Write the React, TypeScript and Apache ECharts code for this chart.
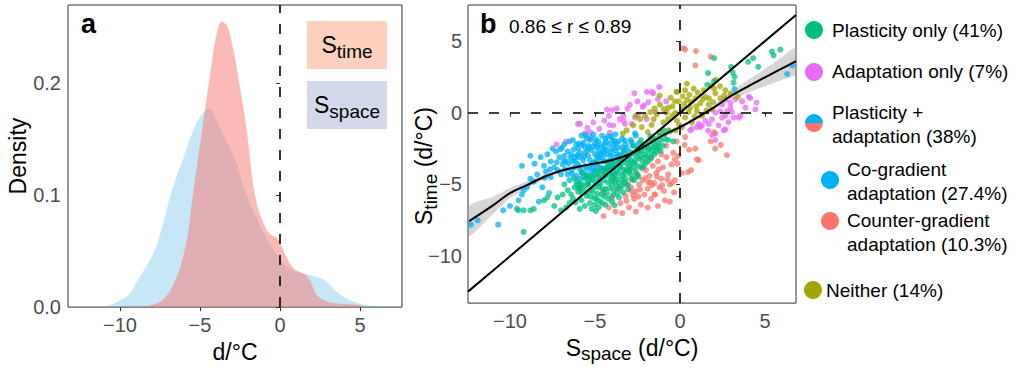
import React, { useEffect, useRef } from "react";
import * as echarts from "echarts";

// ---------- Panel a: density curves ----------
const timeDensX = [-10.6, -9.0, -8.3, -7.6, -7.1, -6.6, -6.15, -5.75, -5.45, -5.15, -4.85, -4.55, -4.27, -3.96, -3.64, -3.3, -2.92, -2.54, -2.08, -1.56, -0.94, -0.5, -0.2, 0, 0.4, 0.83, 1.3, 1.67, 2.0, 2.29, 2.92, 3.8, 4.8, 5.5];
const timeDensY = [0, 0.0005, 0.001, 0.004, 0.01, 0.022, 0.04, 0.066, 0.1, 0.13, 0.16, 0.19, 0.217, 0.244, 0.255, 0.251, 0.23, 0.2, 0.158, 0.1, 0.072, 0.064, 0.062, 0.057, 0.045, 0.035, 0.031, 0.028, 0.02, 0.011, 0.005, 0.003, 0.002, 0];
const spaceDensX = [-11.2, -10.8, -10.0, -9.4, -9.06, -8.5, -8.0, -7.7, -7.3, -6.9, -6.5, -6.0, -5.5, -5.0, -4.42, -4.0, -3.5, -2.9, -2.5, -2.08, -1.25, -0.7, -0.2, 0.3, 0.8, 1.25, 1.8, 2.3, 2.7, 3.1, 3.54, 4.0, 4.58, 5.3, 6.25, 6.8];
const spaceDensY = [0, 0.001, 0.006, 0.012, 0.02, 0.033, 0.046, 0.056, 0.075, 0.097, 0.115, 0.135, 0.155, 0.17, 0.177, 0.168, 0.153, 0.135, 0.118, 0.1, 0.073, 0.058, 0.047, 0.038, 0.033, 0.031, 0.029, 0.027, 0.025, 0.02, 0.0137, 0.009, 0.005, 0.002, 0.0006, 0];
const densXTicks = [-10, -5, 0, 5];
const densYTicks = [0, 0.1, 0.2];

// ---------- Panel b: scatter ----------
const plasticityOnly = [
  [-9.2, -8.3], [-9.6, -6.7], [-9.2, -6.8], [-8.8, -6.8], [-8.6, -6.7], [-7.8, -5.9], [-8.0, -6.1], [-7.4, -6.5], [-7.2, -5.9], [-6.9, -5.7], [-6.6, -5.4], [-6.8, -5.0], [-6.4, -5.7], [-6.2, -5.2],
  [2.0, 3.8], [1.65, 2.76], [3.0, 3.2], [4.0, 3.54], [4.3, 3.8], [4.6, 3.2], [5.5, 4.0], [5.9, 4.4], [5.4, 4.26], [3.2, 2.5], [3.15, 2.1], [2.0, 2.2], [1.6, 1.95], [3.1, 2.8],
  [-6.0, -5.5], [-5.9, -4.9], [-5.8, -6.1], [-5.7, -5.3], [-5.6, -4.6], [-5.5, -5.8], [-5.4, -5.0], [-5.3, -6.3], [-5.2, -4.4], [-5.1, -5.5], [-5.0, -4.8], [-4.9, -6.0], [-4.8, -5.2], [-4.7, -4.3], [-4.6, -5.7], [-4.5, -4.7], [-4.4, -5.3], [-4.3, -3.9], [-4.2, -6.0], [-4.1, -4.5], [-4.0, -5.0], [-3.9, -3.6], [-3.8, -4.8], [-3.7, -5.6], [-3.6, -4.2], [-3.5, -3.3], [-3.4, -5.1], [-3.3, -4.0], [-3.2, -4.6], [-3.1, -3.0], [-3.0, -3.7], [-2.9, -4.3], [-2.8, -2.8], [-2.7, -3.5], [-2.6, -4.1], [-2.5, -2.5], [-2.4, -3.2], [-2.3, -3.8], [-2.2, -2.2], [-2.1, -2.9], [-2.0, -3.5], [-1.9, -2.6], [-1.8, -2.0], [-1.7, -3.1], [-1.6, -2.4], [-1.5, -1.8], [-1.4, -2.7], [-1.3, -2.1], [-1.2, -1.6], [-1.0, -2.3], [-0.9, -1.5], [-0.7, -1.9],
  [-6.3, -6.0], [-6.1, -4.8], [-5.8, -5.6], [-5.5, -4.4], [-5.3, -5.4], [-5.0, -6.4], [-4.9, -4.1], [-4.7, -5.0], [-4.6, -6.3], [-4.4, -4.4], [-4.3, -5.6], [-4.1, -3.8], [-4.0, -4.7], [-3.9, -5.4], [-3.7, -4.0], [-3.6, -4.9], [-3.5, -3.8], [-3.4, -4.4], [-3.2, -3.5], [-3.1, -5.0], [-3.0, -4.1], [-2.9, -3.3], [-2.7, -4.7], [-2.6, -3.0], [-2.5, -3.7], [-2.4, -2.7], [-2.2, -3.4], [-2.1, -2.4], [-1.9, -3.0], [-1.8, -2.5], [-1.6, -1.9], [-1.5, -2.9], [-1.3, -2.5], [-1.1, -1.9],
  [-5.6, -6.5], [-5.2, -6.7], [-4.8, -6.6], [-4.4, -6.4], [-4.0, -6.2], [-3.6, -5.9], [-5.9, -6.7], [-6.5, -6.3], [-6.7, -6.6], [-7.0, -6.8], [-4.9, -3.5], [-4.5, -3.9], [-3.3, -2.8], [-2.8, -2.3], [-2.3, -1.9], [-0.6, -1.3], [-0.4, -2.0], [-1.0, -1.2],
  [-5.75, -4.15], [-5.05, -5.15], [-4.25, -4.85], [-3.85, -4.35], [-3.45, -4.65], [-3.15, -3.95], [-2.75, -3.85], [-2.35, -3.05], [-1.95, -2.25], [-4.65, -4.05], [-5.35, -4.75], [-3.95, -5.75], [-3.05, -5.35], [-2.55, -2.75], [-1.75, -1.65], [-6.25, -4.55], [-5.55, -5.05], [-4.55, -5.35],
  [-5.45, -5.55], [-4.85, -5.65], [-4.15, -5.25], [-3.75, -5.15], [-3.25, -4.25], [-2.85, -3.55], [-2.45, -4.45], [-2.05, -3.15], [-1.65, -2.75], [-1.25, -2.25], [-5.95, -5.25], [-4.35, -4.15], [-3.55, -3.55], [-2.65, -3.35], [-4.75, -6.15], [-3.35, -5.55],
  [-6.15, -6.25], [-5.85, -5.25], [-5.25, -5.85], [-5.15, -4.65], [-4.85, -4.45], [-4.45, -5.85], [-4.05, -4.25], [-3.75, -4.55], [-3.55, -5.25], [-3.25, -4.85], [-2.95, -3.95], [-2.85, -4.65], [-2.55, -4.35], [-2.15, -3.75], [-1.85, -3.35], [-1.45, -2.45], [-1.15, -2.65], [-0.85, -1.85], [-3.65, -3.25], [-4.25, -3.55], [-5.05, -5.95], [-6.05, -5.05], [-2.25, -2.65], [-1.55, -2.15], [-3.85, -6.45], [-4.95, -6.85],
];
const adaptationOnly = [
  [-2.69, 1.35], [-1.67, 1.46], [-1.22, 1.8], [-1.31, 0.94], [-1.86, 0.74], [-2.12, 0.52], [-2.2, 0.4], [-2.51, 0.79], [-3.1, 0.27], [-3.72, 0.29], [-4.0, 0.18], [-4.18, -0.22], [-5.1, -0.67], [-5.88, -0.76], [-5.6, -1.43], [-4.75, -1.12], [-4.16, -0.85], [-3.92, -0.89], [-3.33, -0.56], [-3.33, -0.22], [-3.24, -0.78], [-2.84, -0.78], [-2.65, -0.34], [-4.12, -1.39], [-5.3, -1.35], [-0.82, 0.79], [-1.96, -0.45], [-7.27, -2.2], [-1.96, 1.46], [-1.57, 1.35], [-4.3, 0.22], [-6.0, -0.78], [-6.7, -2.0],
  [4.04, 1.12], [4.14, 1.01], [3.25, 0.94], [2.96, 0.67], [2.66, 0.94], [2.47, 0.56], [2.96, 0.34], [2.76, 0.11], [2.37, 0.11], [2.08, 0.0], [2.66, -0.22], [2.47, -0.34], [3.45, -0.34], [3.16, -0.34], [4.43, 0.23], [1.88, -0.45], [1.49, -0.56], [1.29, -0.89], [1.0, -1.0], [0.7, -1.12], [2.57, -1.23], [2.08, -1.45], [1.69, -0.78], [3.65, 0.79], [2.66, -1.16], [2.08, -1.9], [1.88, -1.57], [1.2, -1.0], [0.6, -1.23], [1.1, -0.78], [2.27, -0.89], [3.55, -0.22], [4.5, 0.7],
  [-2.45, -0.15], [-3.55, -0.45], [-4.45, -0.55], [-2.95, 0.55], [-1.45, 0.05], [-5.45, -1.05], [3.85, 0.35], [2.85, -0.65], [1.65, -1.25], [3.05, 0.05],
];
const coGradient = [
  [-12.3, -7.8], [-11.9, -7.5], [-10.7, -7.8], [-10.4, -6.8], [-10.0, -6.5], [-9.5, -6.8], [-9.5, -6.1], [-9.3, -5.7], [-9.2, -5.4], [-9.0, -5.2], [-8.8, -4.6], [-9.3, -3.7], [-8.8, -3.0], [-8.6, -4.8], [-8.4, -4.3], [-8.3, -6.2], [-8.2, -3.1], [-8.0, -3.7], [-7.9, -4.1], [-8.1, -5.2], [-7.6, -3.4], [-7.6, -4.5], [-7.7, -5.6], [-7.8, -2.9], [-7.4, -3.8], [-7.3, -2.7], [-7.1, -3.1], [-7.0, -4.3], [-6.8, -2.2], [-6.7, -3.4], [-6.6, -2.7], [-6.5, -4.7], [-6.4, -4.0], [-6.2, -3.1], [-6.1, -2.2], [-6.3, -1.9],
  [-6.0, -3.6], [-5.9, -2.8], [-5.8, -4.2], [-5.7, -3.3], [-5.6, -2.4], [-5.5, -3.9], [-5.5, -1.8], [-5.4, -3.0], [-5.3, -4.5], [-5.2, -2.6], [-5.1, -3.5], [-5.0, -2.1], [-5.0, -4.0], [-4.9, -3.2], [-4.8, -2.7], [-4.7, -3.8], [-4.6, -1.6], [-4.6, -2.4], [-4.5, -3.4], [-4.4, -4.3], [-4.3, -2.9], [-4.2, -2.2], [-4.1, -3.7], [-4.0, -1.9], [-3.9, -3.1], [-3.8, -2.6], [-3.7, -3.5], [-3.6, -2.0], [-3.5, -2.9], [-3.4, -2.4], [-3.2, -2.2], [-3.0, -2.7], [-2.9, -1.9], [-2.7, -2.3], [-2.6, -1.6],
  [-6.2, -3.8], [-6.0, -2.5], [-5.9, -4.6], [-5.8, -1.6], [-5.7, -2.1], [-5.6, -3.7], [-5.4, -2.3], [-5.3, -3.3], [-5.2, -4.1], [-5.1, -1.5], [-5.0, -2.9], [-4.9, -3.7], [-4.8, -2.0], [-4.7, -4.6], [-4.5, -2.8], [-4.4, -1.8], [-4.3, -3.4], [-4.2, -4.0], [-4.0, -2.5], [-3.9, -4.2], [-3.8, -1.5], [-3.7, -2.9], [-3.5, -3.7], [-3.3, -2.6], [-3.1, -3.3],
  [-6.4, -2.9], [-6.3, -3.4], [-6.1, -4.4], [-5.9, -3.1], [-5.6, -2.8], [-5.5, -4.3], [-5.3, -1.9], [-5.2, -3.6], [-4.9, -2.4], [-4.8, -3.0], [-4.6, -3.9], [-4.5, -2.2], [-4.3, -2.6], [-4.1, -3.0], [-4.0, -3.4], [-3.9, -2.2], [-3.6, -3.0], [-3.4, -1.8],
  [-6.9, -3.6], [-7.2, -4.0], [-6.6, -4.3], [-6.8, -3.0], [-7.5, -2.5], [-6.5, -2.0], [-5.8, -5.0], [-5.4, -4.9], [-4.8, -4.9],
  [-6.15, -3.35], [-5.45, -2.65], [-4.75, -3.15], [-4.05, -2.75], [-5.85, -3.95], [-5.15, -2.35], [-4.35, -3.85], [-3.65, -2.45], [-5.65, -4.45], [-4.95, -1.85], [-6.55, -3.55], [-3.25, -1.95],
  [-6.05, -2.95], [-5.35, -3.75], [-4.65, -2.85], [-3.95, -3.55], [-5.75, -2.25], [-5.05, -3.45], [-4.45, -2.55], [-3.85, -1.95], [-6.75, -3.95], [-7.05, -2.55], [-4.25, -1.65], [-5.25, -1.75],
  [-6.45, -3.15], [-6.25, -2.55], [-5.95, -2.15], [-5.65, -3.05], [-5.35, -2.45], [-5.15, -3.85], [-4.85, -2.25], [-4.55, -3.15], [-4.35, -2.05], [-4.15, -3.35], [-3.75, -2.15], [-3.45, -3.15], [-3.15, -2.45], [-2.85, -2.05], [-6.85, -3.35], [-7.25, -3.45], [-7.65, -3.95], [-5.55, -1.55], [-4.05, -1.65], [-5.95, -3.75], [-5.05, -4.35], [-4.45, -4.05], [-3.95, -3.85], [-6.35, -4.25], [-7.95, -4.55], [-8.55, -3.55], [-6.95, -2.45], [-2.45, -2.15], [-2.95, -2.95], [-3.55, -3.35],
  [6.6, 3.3], [6.3, 2.7], [3.2, 1.65], [-2.65, -1.43],
];
const counterGradient = [
  [-4.5, -7.2], [-4.5, -5.5], [-4.2, -6.6], [-4.0, -5.9], [-3.8, -6.9], [-3.6, -5.3], [-3.5, -6.3], [-3.3, -4.9], [-3.2, -5.8], [-3.0, -6.6], [-2.9, -5.2], [-2.8, -4.6], [-2.7, -6.0], [-2.6, -5.5], [-2.5, -4.3], [-2.4, -5.0], [-2.3, -6.4], [-2.2, -4.7], [-2.1, -5.7], [-2.0, -4.0], [-1.9, -5.3], [-1.8, -4.4], [-1.7, -6.0], [-1.6, -3.7], [-1.5, -4.9], [-1.5, -5.7], [-1.4, -4.2], [-1.3, -3.4], [-1.2, -5.2], [-1.1, -4.6], [-1.0, -3.8], [-0.9, -6.1], [-0.8, -3.1], [-0.7, -4.3], [-0.6, -5.0], [-0.6, -6.2], [-0.5, -3.6], [-0.4, -2.8], [-0.3, -4.7], [-0.3, -3.25], [-0.47, -4.9], [-0.1, -3.0], [0.1, -4.2], [0.27, -2.24], [0.47, -4.13], [0.53, -2.58], [0.65, -4.0], [0.9, -2.5], [1.0, -3.25], [1.1, -3.3], [1.8, -2.0], [2.0, -1.37], [2.06, -2.5], [2.4, -2.24], [2.76, -2.96], [-1.47, -5.7], [-3.9, -4.6], [-2.2, -3.9], [-1.7, -3.2], [-1.1, -2.9], [-0.8, -2.3], [-0.2, -2.0], [0.3, -1.7], [-1.9, -6.6], [-2.6, -6.9], [-3.4, -7.0], [-1.3, -6.5],
  [-2.35, -5.35], [-1.85, -4.85], [-1.35, -4.45], [-0.95, -5.45], [-2.75, -5.75], [-3.15, -6.15], [-1.65, -5.05],
  [-2.85, -5.45], [-2.45, -5.85], [-2.05, -4.55], [-1.75, -4.85], [-1.05, -5.05], [-0.75, -4.65], [-0.35, -5.55], [-3.05, -5.05], [-1.25, -3.95], [-0.15, -3.55],
  [0.2, 4.5], [0.3, 4.4], [0.94, 4.3], [1.8, 3.9], [0.9, 3.3],
];
const neither = [
  [-0.18, 1.46], [0.3, 1.57], [0.8, 1.68], [1.4, 1.57], [2.0, 1.68], [2.66, 1.57], [2.08, 1.35], [1.49, 1.12], [0.9, 1.01], [0.41, 0.9], [-0.08, 0.79], [1.2, 0.67], [1.69, 0.56], [0.6, 0.34], [0.12, 0.23], [-0.27, 0.0], [1.0, 0.11], [1.88, 0.23], [1.29, -0.22], [0.3, -0.34], [-0.18, -0.56], [0.7, -0.67], [0.12, -1.0], [-0.27, -1.23], [2.37, 1.01], [2.96, 1.35], [3.4, 1.1], [0.41, 2.02], [2.1, 2.3],
  [-0.2, 1.46], [-1.18, 0.56], [-0.69, 0.34], [-1.37, -0.11], [-2.06, -0.22], [-2.35, -0.45], [-2.75, -0.89], [-2.25, -1.0], [-1.67, -0.85], [-3.14, -1.23], [-3.37, -1.45], [-0.7, -0.45], [-0.98, -0.67], [-0.7, -1.23], [-1.2, -1.35], [-1.9, -1.35], [-0.8, 0.0], [-0.3, 0.8], [-1.2, 1.2],
  [0.55, 1.25], [1.05, 1.4], [1.7, 1.0], [0.25, 0.6], [0.95, 0.45], [1.55, 0.15], [-0.55, 1.05], [-1.5, 0.3], [-0.45, -0.2], [0.5, 0.05], [2.6, 1.2], [1.85, 1.9], [-2.6, -0.2], [-1.55, -0.45],
  [0.15, 1.15], [0.65, 0.75], [1.35, 0.95], [-0.45, 0.45], [-0.95, 0.25], [-1.75, 0.05], [0.85, -0.25], [1.95, 0.75], [2.35, 1.85], [-0.05, -0.85],
];

// smoothed fit (loess) with its confidence band
const loessX = [-12.4, -11, -10, -9, -8, -7, -6, -5, -4, -3, -2, -1, 0, 1, 2, 3, 4, 5, 6, 6.82];
const loessY = [-7.55, -6.46, -5.6, -5.04, -4.48, -4.04, -3.77, -3.54, -3.3, -2.91, -2.29, -1.57, -1.0, -0.34, 0.38, 1.17, 1.84, 2.47, 3.09, 3.59];
const loessLow = [-8.6, -7.06, -5.95, -5.29, -4.66, -4.17, -3.89, -3.65, -3.41, -3.02, -2.4, -1.68, -1.12, -0.49, 0.18, 0.87, 1.39, 1.87, 2.29, 2.64];
const loessHigh = [-6.5, -5.86, -5.25, -4.79, -4.3, -3.91, -3.65, -3.43, -3.19, -2.8, -2.18, -1.46, -0.88, -0.19, 0.58, 1.47, 2.29, 3.07, 3.89, 4.54];
const oneToOne = [[-12.47, -12.47], [6.82, 6.82]];
const scatterXTicks = [-10, -5, 0, 5];
const scatterYTicks = [-10, -5, 0, 5];

const FONT = "'Liberation Sans', Arial, sans-serif";
const C_GREEN = "#00BF7D";
const C_MAGENTA = "#E76BF3";
const C_BLUE = "#00B0F6";
const C_RED = "#F8766D";
const C_OLIVE = "#A3A500";
const TICK_FS = 20;

const fmtNum = (v: number) => (v < 0 ? "\u2212" + Math.abs(v) : String(v));
const zip = (xs: number[], ys: number[]) => xs.map((x, i) => [x, ys[i]]);

const tickStyle = { show: true, length: 4, lineStyle: { color: "#333", width: 1 } };

export default function App() {
  const ref = useRef<HTMLDivElement>(null);
  useEffect(() => {
    const chart = echarts.init(ref.current!, null, { renderer: "svg" });
    const richSub = {
      s: { fontSize: 23, fontFamily: FONT, color: "#000" },
      sub: { fontSize: 19, fontFamily: FONT, color: "#000", padding: [12, 0, 0, 0] },
      n: { fontSize: 23, fontFamily: FONT, color: "#000" },
    };
    const labelStyle = { color: "#4D4D4D", fontSize: TICK_FS, fontFamily: FONT };
    const scatter = (name: string, data: number[][], color: string) => ({
      name,
      type: "scatter",
      xAxisIndex: 1,
      yAxisIndex: 1,
      data,
      symbolSize: 6,
      itemStyle: { color, opacity: 0.75 },
      silent: true,
    });
    const legendItem = (cx: number, cy: number, color: string) => ({
      type: "circle",
      shape: { cx, cy, r: 9 },
      style: { fill: color },
    });
    const legendText = (x: number, y: number, text: string) => ({
      type: "text",
      x,
      y,
      style: {
        text,
        fontSize: 19,
        fontFamily: FONT,
        fill: "#000",
        lineHeight: 24,
        align: "left",
        verticalAlign: "middle",
      },
    });
    chart.setOption({
      animation: false,
      backgroundColor: "#fff",
      grid: [
        { left: 68, top: 5, width: 334, height: 309, show: true, borderColor: "#333", borderWidth: 1, backgroundColor: "transparent" },
        { left: 468, top: 5, width: 328, height: 309, show: true, borderColor: "#333", borderWidth: 1, backgroundColor: "transparent" },
      ],
      xAxis: [
        {
          type: "value", gridIndex: 0, min: -13.25, max: 7.625,
          axisLine: { show: false }, splitLine: { show: false },
          axisTick: { ...tickStyle, customValues: densXTicks },
          axisLabel: { customValues: densXTicks, ...labelStyle, margin: 8, formatter: fmtNum },
          name: "d/°C", nameLocation: "middle", nameGap: 27,
          nameTextStyle: { fontSize: 23, fontFamily: FONT, color: "#000" },
        },
        {
          type: "value", gridIndex: 1, min: -12.47, max: 6.82,
          axisLine: { show: false }, splitLine: { show: false },
          axisTick: { ...tickStyle, customValues: scatterXTicks },
          axisLabel: { customValues: scatterXTicks, ...labelStyle, margin: 8, formatter: fmtNum },
          name: "{s|S}{sub|space}{n| (d/°C)}", nameLocation: "middle", nameGap: 25,
          nameTextStyle: { rich: richSub },
        },
      ],
      yAxis: [
        {
          type: "value", gridIndex: 0, min: 0, max: 0.27,
          axisLine: { show: false }, splitLine: { show: false },
          axisTick: { ...tickStyle, customValues: densYTicks },
          axisLabel: { customValues: densYTicks, ...labelStyle, margin: 7, formatter: (v: number) => v.toFixed(1) },
          name: "Density", nameLocation: "middle", nameGap: 36, nameRotate: 90,
          nameTextStyle: { fontSize: 23, fontFamily: FONT, color: "#000" },
        },
        {
          type: "value", gridIndex: 1, min: -13.27, max: 7.51,
          axisLine: { show: false }, splitLine: { show: false },
          axisTick: { ...tickStyle, customValues: scatterYTicks },
          axisLabel: { customValues: scatterYTicks, ...labelStyle, margin: 6, formatter: fmtNum },
        },
      ],
      series: [
        {
          type: "line", xAxisIndex: 0, yAxisIndex: 0, data: zip(spaceDensX, spaceDensY),
          smooth: 0.4, symbol: "none", lineStyle: { width: 0 },
          areaStyle: { color: "rgba(86,180,233,0.33)", opacity: 1 }, silent: true,
        },
        {
          type: "line", xAxisIndex: 0, yAxisIndex: 0, data: zip(timeDensX, timeDensY),
          smooth: 0.4, symbol: "none", lineStyle: { width: 0 },
          areaStyle: { color: "rgba(248,118,109,0.5)", opacity: 1 }, silent: true,
          markLine: {
            silent: true, symbol: "none", label: { show: false },
            lineStyle: { color: "#000", width: 1.6, type: [10, 11] },
            data: [{ xAxis: 0 }],
          },
        },
        scatter("Adaptation only", adaptationOnly, C_MAGENTA),
        scatter("Neither", neither, C_OLIVE),
        scatter("Counter-gradient", counterGradient, C_RED),
        scatter("Co-gradient", coGradient, C_BLUE),
        scatter("Plasticity only", plasticityOnly, C_GREEN),
        {
          type: "custom", xAxisIndex: 1, yAxisIndex: 1, data: [[0, 0]], silent: true, clip: true,
          renderItem: (_p: any, api: any) => {
            const pts: number[][] = [];
            loessX.forEach((x, i) => pts.push(api.coord([x, loessHigh[i]])));
            for (let i = loessX.length - 1; i >= 0; i--) pts.push(api.coord([loessX[i], loessLow[i]]));
            return { type: "polygon", shape: { points: pts, smooth: 0.2 }, style: { fill: "rgba(153,153,153,0.4)" } };
          },
        },
        {
          type: "line", xAxisIndex: 1, yAxisIndex: 1, data: oneToOne, symbol: "none",
          lineStyle: { color: "#000", width: 2 }, silent: true,
          markLine: {
            silent: true, symbol: "none", label: { show: false },
            lineStyle: { color: "#000", width: 1.6, type: [10, 11] },
            data: [{ xAxis: 0 }, { yAxis: 0 }],
          },
        },
        {
          type: "line", xAxisIndex: 1, yAxisIndex: 1, data: zip(loessX, loessY), symbol: "none",
          smooth: 0.4, lineStyle: { color: "#000", width: 2 }, silent: true,
        },
      ],
      graphic: [
        { type: "text", x: 81, y: 24, style: { text: "a", fontSize: 27, fontWeight: "bold", fontFamily: FONT, fill: "#000", align: "left", verticalAlign: "middle" } },
        { type: "text", x: 480, y: 24, style: { text: "b", fontSize: 27, fontWeight: "bold", fontFamily: FONT, fill: "#000", align: "left", verticalAlign: "middle" } },
        { type: "text", x: 509, y: 26, style: { text: "0.86 \u2264 r \u2264 0.89", fontSize: 19, fontFamily: FONT, fill: "#000", align: "left", verticalAlign: "middle" } },
        { type: "text", x: 424, y: 166, rotation: Math.PI / 2, style: { text: "{s|S}{sub|time}{n| (d/°C)}", rich: richSub, align: "center", verticalAlign: "middle" } },
        { type: "rect", shape: { x: 307, y: 21, width: 80, height: 48 }, style: { fill: "#FDD0C0" } },
        { type: "rect", shape: { x: 307, y: 81, width: 80, height: 48 }, style: { fill: "#D3D9EB" } },
        { type: "text", x: 347, y: 45, style: { text: "{s|S}{sub|time}", rich: richSub, align: "center", verticalAlign: "middle" } },
        { type: "text", x: 347, y: 105, style: { text: "{s|S}{sub|space}", rich: richSub, align: "center", verticalAlign: "middle" } },
        legendItem(814, 30, C_GREEN),
        legendText(832, 30, "Plasticity only (41%)"),
        legendItem(814, 72, C_MAGENTA),
        legendText(832, 71, "Adaptation only (7%)"),
        { type: "sector", shape: { cx: 814, cy: 123, r0: 0, r: 9, startAngle: Math.PI, endAngle: Math.PI * 2 }, style: { fill: C_BLUE } },
        { type: "sector", shape: { cx: 814, cy: 123, r0: 0, r: 9, startAngle: 0, endAngle: Math.PI }, style: { fill: C_RED } },
        legendText(832, 124.5, "Plasticity +\nadaptation (38%)"),
        legendItem(830, 180, C_BLUE),
        legendText(847, 181, "Co-gradient\nadaptation (27.4%)"),
        legendItem(830, 221, C_RED),
        legendText(847, 232.5, "Counter-gradient\nadaptation (10.3%)"),
        legendItem(813, 290, C_OLIVE),
        legendText(826, 290, "Neither (14%)"),
      ],
    });
    return () => chart.dispose();
  }, []);
  return <div ref={ref} style={{ position: "fixed", left: 0, top: 0, width: 1016, height: 368 }} />;
}
